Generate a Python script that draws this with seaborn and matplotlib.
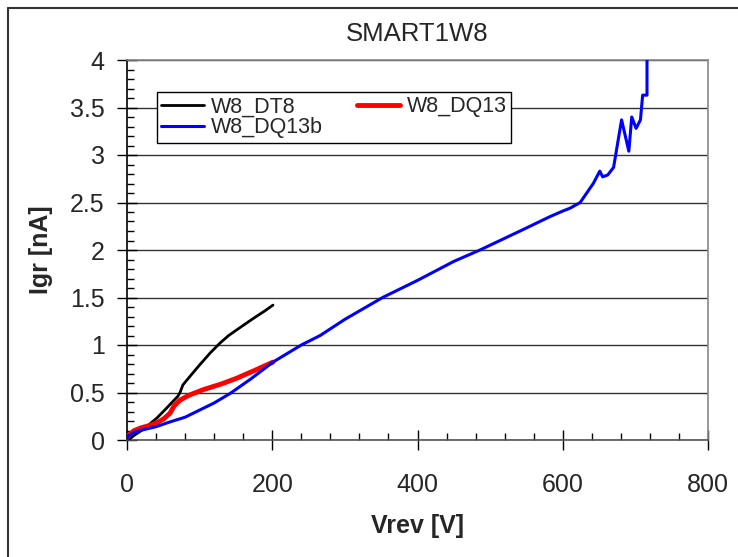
import matplotlib
matplotlib.use("Agg")
import matplotlib.pyplot as plt
import seaborn as sns
import pandas as pd
from matplotlib.lines import Line2D
from matplotlib.ticker import MultipleLocator

# ---- data ----
dt8_v = [0, 5, 10, 20, 30, 41, 50, 60, 70, 73, 77, 90, 100, 115, 128, 140, 155, 174, 190, 201]
dt8_i = [0, 0.02, 0.05, 0.1, 0.16, 0.23, 0.3, 0.38, 0.46, 0.5, 0.58, 0.7, 0.79, 0.92, 1.02, 1.1, 1.18, 1.28, 1.36, 1.42]

dq13_v = [0, 2, 10, 20, 30, 41, 50, 59, 65, 73, 85, 105, 130, 151, 175, 201]
dq13_i = [0.02, 0.05, 0.1, 0.13, 0.15, 0.18, 0.22, 0.28, 0.36, 0.42, 0.47, 0.53, 0.59, 0.65, 0.73, 0.82]

dq13b_v = [0, 1, 10, 18, 40, 59, 80, 96, 120, 142, 170, 201, 240, 266, 300, 352, 400, 450, 486, 544,
           582, 600, 610, 624, 642, 651, 655, 662, 670, 681, 691, 695, 701, 707, 710, 716, 716]
dq13b_i = [0, 0.04, 0.08, 0.1, 0.14, 0.19, 0.24, 0.3, 0.39, 0.49, 0.64, 0.82, 1.0, 1.1, 1.27, 1.5, 1.68, 1.88, 2.0, 2.21,
           2.35, 2.41, 2.44, 2.5, 2.7, 2.83, 2.77, 2.79, 2.87, 3.37, 3.04, 3.4, 3.28, 3.37, 3.63, 3.63, 4.1]

series_names = ["W8_DT8", "W8_DQ13", "W8_DQ13b"]
title = "SMART1W8"
x_label = "Vrev [V]"
y_label = "Igr [nA]"

sns.set_style("white")
plt.rcParams["font.family"] = ["Liberation Sans", "DejaVu Sans"]

fig = plt.figure(figsize=(7.38, 5.57), dpi=100)
ax = fig.add_axes([127 / 738, 1 - 440 / 557, (708 - 127) / 738, (440 - 60) / 557])

df_dt8 = pd.DataFrame({"V": dt8_v, "I": dt8_i})
df_dq13 = pd.DataFrame({"V": dq13_v, "I": dq13_i})
df_dq13b = pd.DataFrame({"V": dq13b_v, "I": dq13b_i})

sns.lineplot(data=df_dt8, x="V", y="I", sort=False, estimator=None, color="black", lw=2.0, ax=ax, zorder=3)
sns.lineplot(data=df_dq13, x="V", y="I", sort=False, estimator=None, color="#ff0000", lw=3.5, ax=ax, zorder=4)
sns.lineplot(data=df_dq13b, x="V", y="I", sort=False, estimator=None, color="#0000ff", lw=2.2, ax=ax, zorder=5)

ax.set_xlim(0, 800)
ax.set_ylim(0, 4)
ax.xaxis.set_major_locator(MultipleLocator(200))
ax.xaxis.set_minor_locator(MultipleLocator(40))
ax.yaxis.set_minor_locator(MultipleLocator(0.1))
ax.set_yticks([0, 0.5, 1, 1.5, 2, 2.5, 3, 3.5, 4])
ax.set_yticklabels(["0", "0.5", "1", "1.5", "2", "2.5", "3", "3.5", "4"])

ax.grid(axis="y", which="major", color="#333333", lw=1.0, zorder=0)
ax.grid(axis="x", visible=False)

ax.tick_params(axis="both", which="both", bottom=True, left=True, top=False, right=False)
ax.tick_params(axis="both", which="major", direction="inout", length=14, width=1.0, color="black", labelsize=18)
ax.tick_params(axis="x", which="major", pad=17)
ax.tick_params(axis="y", which="major", pad=9)
ax.tick_params(axis="both", which="minor", direction="in", length=5, width=1.0, color="black")

for s in ["top", "right"]:
    ax.spines[s].set_color("#888888")
    ax.spines[s].set_linewidth(1.2)
ax.spines["left"].set_color("black")
ax.spines["bottom"].set_color("#555555")
for s in ["left", "bottom"]:
    ax.spines[s].set_linewidth(1.2)

ax.set_xlabel(x_label, fontsize=18, fontweight="bold", labelpad=12)
ax.set_ylabel(y_label, fontsize=18, fontweight="bold", labelpad=12)
ax.set_title(title, fontsize=18.5, pad=14)

handles = [
    Line2D([], [], color="black", lw=2.0),
    Line2D([], [], color="#0000ff", lw=2.2),
    Line2D([], [], color="#ff0000", lw=3.5),
]
labels = [series_names[0], series_names[2], series_names[1]]
leg = ax.legend(handles, labels, ncol=2, loc="upper left",
                bbox_to_anchor=((157 - 127) / 581, (440 - 92) / 380),
                borderaxespad=0, fontsize=15.5, frameon=True, fancybox=False,
                framealpha=1, edgecolor="black", handlelength=2.0, handletextpad=0.3,
                columnspacing=1.6, labelspacing=0.0, borderpad=0.2)
leg.get_frame().set_linewidth(1.0)
leg.set_zorder(10)

# outer chart border
fig.add_artist(Line2D([8 / 738, 8 / 738], [0, 1 - 8 / 557], transform=fig.transFigure, color="#333333", lw=1.5))
fig.add_artist(Line2D([8 / 738, 1], [1 - 8 / 557, 1 - 8 / 557], transform=fig.transFigure, color="#333333", lw=1.5))

fig.savefig("out.png", dpi=100)
